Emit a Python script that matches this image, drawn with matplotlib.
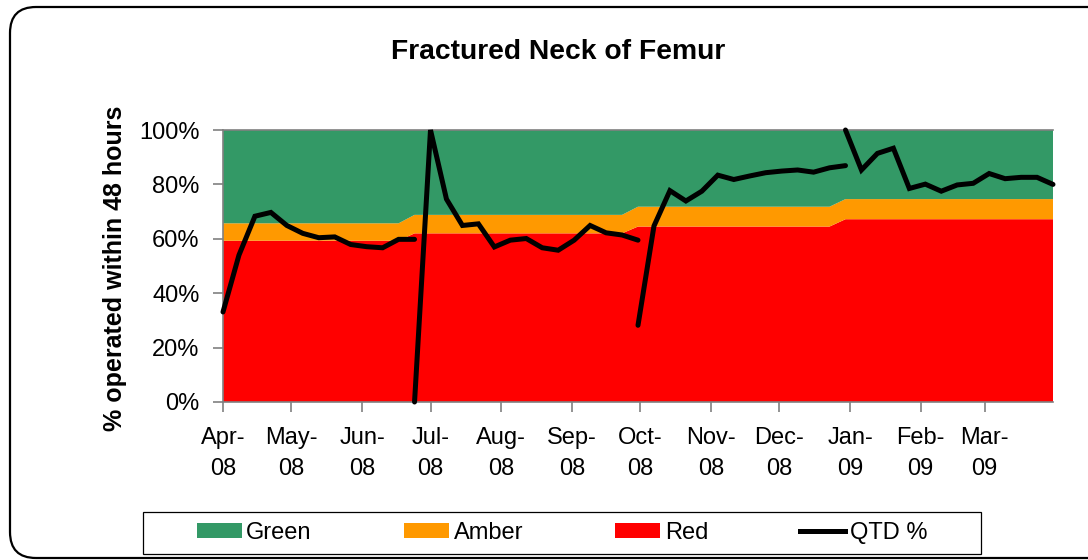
import numpy as np
import pandas as pd
import matplotlib
matplotlib.use("Agg")
import matplotlib.pyplot as plt
import matplotlib.dates as mdates
from matplotlib.patches import Patch, FancyBboxPatch, Rectangle
from matplotlib.lines import Line2D

plt.rcParams['font.family'] = ['Liberation Sans', 'DejaVu Sans']

# Weekly points, Apr-08 to Mar-09
weeks = pd.date_range('2008-04-01', periods=53, freq='7D')

# Target bands per quarter (top of red, top of amber), and how many weeks each lasts
red_top_q = [59.3, 62.0, 64.5, 67.2]
amber_top_q = [65.7, 68.8, 71.8, 74.6]
weeks_in_q = [12, 14, 13, 14]

# QTD % line, one run per quarter (start week index, values)
qtd_start = [0, 12, 26, 39]
qtd_q1 = [33.1, 54.0, 68.3, 69.7, 64.9, 62.0, 60.4, 60.7, 57.9, 57.1, 56.7, 59.8, 59.8]
qtd_q2 = [0.0, 100.0, 74.6, 64.9, 65.5, 57.0, 59.5, 60.1, 56.7, 55.8, 59.5, 64.9, 62.2, 61.4, 59.5]
qtd_q3 = [28.2, 64.7, 77.7, 73.9, 77.5, 83.4, 81.8, 83.1, 84.3, 84.9, 85.3, 84.5, 86.1, 86.9]
qtd_q4 = [100.0, 85.3, 91.4, 93.3, 78.5, 80.1, 77.5, 79.8, 80.4, 84.0, 82.1, 82.6, 82.6, 80.0]
qtd_runs = [qtd_q1, qtd_q2, qtd_q3, qtd_q4]

GREEN = '#339966'
AMBER = '#FF9900'
RED = '#FF0000'
GREY = '#808080'


def main():
    red = np.repeat(red_top_q, weeks_in_q)
    amber_top = np.repeat(amber_top_q, weeks_in_q)
    amber = amber_top - red
    green = 100 - amber_top

    fig = plt.figure(figsize=(10.88, 5.6), dpi=100)
    ax = fig.add_axes([223 / 1088, 1 - 402 / 560, 830 / 1088, 272 / 560])

    ax.stackplot(weeks, red, amber, green, colors=[RED, AMBER, GREEN],
                 linewidth=0, edgecolor='none')

    # QTD line, broken at each quarter
    for start, vals in zip(qtd_start, qtd_runs):
        ax.plot(weeks[start:start + len(vals)], vals, color='black', lw=3.6,
                solid_capstyle='round', solid_joinstyle='miter', clip_on=False, zorder=5)

    ax.set_xlim(weeks[0], weeks[-1])
    ax.set_ylim(0, 100)
    ax.set_yticks(range(0, 101, 20))
    ax.set_yticklabels([f'{v}%' for v in range(0, 101, 20)])

    months = pd.date_range('2008-04-01', '2009-03-01', freq='MS')
    ax.set_xticks(months)
    ax.xaxis.set_major_formatter(mdates.DateFormatter('%b-\n%y'))

    ax.tick_params(axis='both', direction='out', length=7, width=1.2,
                   color=GREY, labelsize=17, labelcolor='black')
    ax.tick_params(axis='y', pad=10)
    ax.tick_params(axis='x', pad=11)

    fig.canvas.draw()
    for lbl in ax.get_xticklabels():
        lbl.set_linespacing(1.55)
        lbl.set_multialignment('center')

    for side in ['left', 'bottom', 'top']:
        ax.spines[side].set_color(GREY)
        ax.spines[side].set_linewidth(1.2)
    ax.spines['right'].set_visible(False)

    fig.text(558 / 1088, 1 - 52 / 560, 'Fractured Neck of Femur', ha='center', va='center',
             fontsize=20.3, fontweight='bold')
    fig.text(115 / 1088, 1 - 268 / 560, '% operated within 48 hours', ha='center', va='center',
             rotation=90, fontsize=18, fontweight='bold')

    # outer rounded border of the chart (right edge runs off the image)
    fig.patches.append(FancyBboxPatch((0.10, 0.02), 11.5, 5.51,
                                      boxstyle='round,pad=0,rounding_size=0.26',
                                      transform=fig.dpi_scale_trans, facecolor='none',
                                      edgecolor='black', lw=1.6))

    # legend frame and legend
    fig.patches.append(Rectangle((1.43, 0.06), 8.38, 0.42, transform=fig.dpi_scale_trans,
                                 facecolor='white', edgecolor='black', lw=0.9))
    handles = [Patch(facecolor=GREEN, edgecolor='none'),
               Patch(facecolor=AMBER, edgecolor='none'),
               Patch(facecolor=RED, edgecolor='none'),
               Line2D([0], [0], color='black', lw=3.6)]
    fig.legend(handles, ['Green', 'Amber', 'Red', 'QTD %'], loc='center',
               bbox_to_anchor=(562 / 1088, 1 - 533 / 560), ncol=4, frameon=False,
               fontsize=17, handlelength=1.9, handleheight=0.62, handletextpad=0.2,
               columnspacing=3.9)

    fig.savefig('out.png', dpi=100)


if __name__ == "__main__":
    main()
